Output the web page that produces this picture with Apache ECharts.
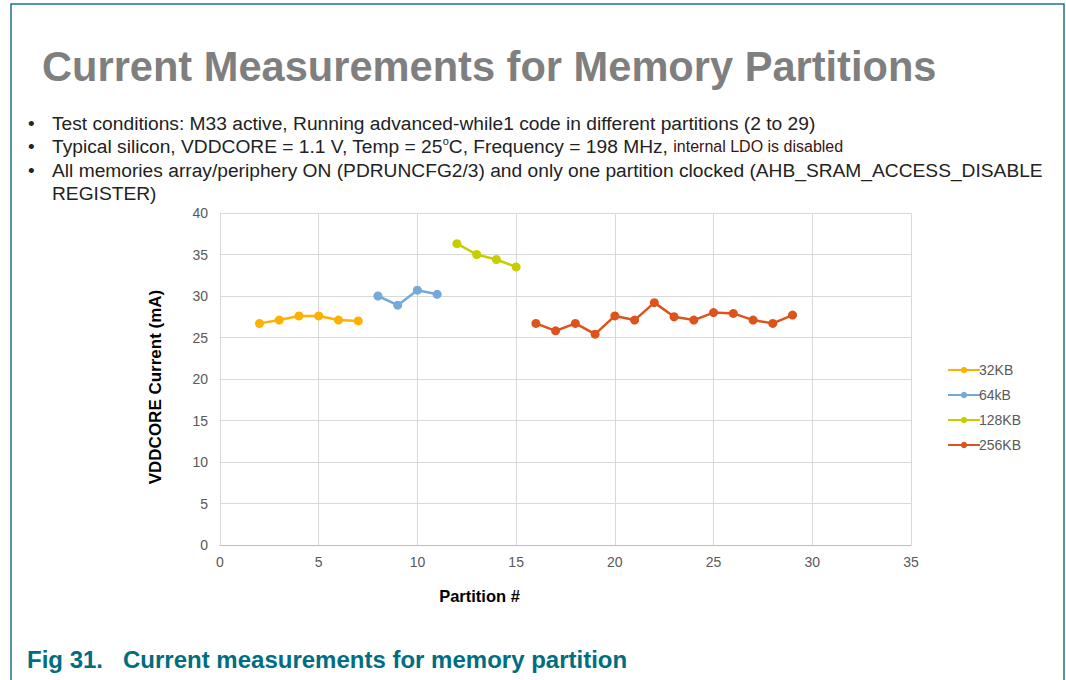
<!DOCTYPE html>
<html lang="en">
  <head>
    <meta charset="UTF-8" />
    <title>Current Measurements for Memory Partitions</title>
    <style>
      html, body {
        margin: 0;
        padding: 0;
        background: #fff;
      }
      #main {
        width: 1066px;
        height: 680px;
      }
    </style>
    <script src="https://cdn.jsdelivr.net/npm/echarts@6/dist/echarts.min.js"></script>
  </head>
  <body>
    <div id="main"></div>
    <script>
      // partition numbers per memory size
      const part32 = [2, 3, 4, 5, 6, 7]
      const val32 = [26.7, 27.1, 27.6, 27.6, 27.1, 27.0]
      const part64 = [8, 9, 10, 11]
      const val64 = [30.0, 28.9, 30.7, 30.2]
      const part128 = [12, 13, 14, 15]
      const val128 = [36.3, 35.0, 34.4, 33.5]
      const part256 = [16, 17, 18, 19, 20, 21, 22, 23, 24, 25, 26, 27, 28, 29]
      const val256 = [26.7, 25.8, 26.7, 25.4, 27.6, 27.1, 29.2, 27.5, 27.1, 28.0, 27.9, 27.1, 26.7, 27.7]
      const seriesNames = ['32KB', '64kB', '128KB', '256KB']
      const colors = ['#ffb000', '#74a9d9', '#c8cd00', '#dc531c']

      const pairs = (xs, ys) => xs.map((x, i) => [x, ys[i]])
      const allData = [
        pairs(part32, val32),
        pairs(part64, val64),
        pairs(part128, val128),
        pairs(part256, val256)
      ]

      const font = 'Liberation Sans, Arial, sans-serif'
      const chart = echarts.init(document.getElementById('main'), null, { renderer: 'svg' })

      const option = {
        animation: false,
        backgroundColor: '#fff',
        textStyle: { fontFamily: font },
        grid: { left: 220, top: 213, right: 155, bottom: 135 },
        legend: {
          orient: 'vertical',
          left: 942,
          top: 358,
          itemWidth: 32,
          itemHeight: 8,
          itemGap: 11,
          textStyle: { fontSize: 14, color: '#595959', padding: [0, 0, 0, -6] },
          data: seriesNames
        },
        xAxis: {
          type: 'value',
          min: 0,
          max: 35,
          interval: 5,
          name: 'Partition #',
          nameLocation: 'middle',
          nameGap: 42,
          nameTextStyle: { fontWeight: 'bold', fontSize: 16.5, color: '#000', padding: [0, 172, 0, 0] },
          axisLine: { lineStyle: { color: '#bfbfbf' } },
          axisTick: { show: false },
          axisLabel: { color: '#595959', fontSize: 14, margin: 10 },
          splitLine: { lineStyle: { color: '#d9d9d9' } }
        },
        yAxis: {
          type: 'value',
          min: 0,
          max: 40,
          interval: 5,
          name: 'VDDCORE Current (mA)',
          nameLocation: 'middle',
          nameRotate: 90,
          nameGap: 56,
          nameTextStyle: { fontWeight: 'bold', fontSize: 17, color: '#000', padding: [0, 16, 0, 0] },
          axisLine: { show: true, lineStyle: { color: '#d9d9d9' } },
          axisTick: { show: false },
          axisLabel: { color: '#595959', fontSize: 14, margin: 12 },
          splitLine: { lineStyle: { color: '#d9d9d9' } }
        },
        series: seriesNames.map((name, i) => ({
          name: name,
          type: 'line',
          data: allData[i],
          symbol: 'circle',
          symbolSize: 9,
          color: colors[i],
          lineStyle: { width: 2.5, color: colors[i] },
          itemStyle: { color: colors[i] }
        })),
        graphic: [
          {
            type: 'rect',
            shape: { x: 11, y: 4, width: 1053, height: 690 },
            style: { fill: 'none', stroke: '#1f7385', lineWidth: 1.5 }
          },
          {
            type: 'text',
            left: 42,
            top: 45,
            style: {
              text: 'Current Measurements for Memory Partitions',
              font: 'bold 41.6px ' + font,
              fill: '#7f7f7f'
            }
          },
          {
            type: 'text',
            left: 28,
            top: 112,
            style: {
              text: '•\n•\n•',
              font: '19px ' + font,
              lineHeight: 23.3,
              fill: '#222'
            }
          },
          {
            type: 'text',
            left: 52,
            top: 112,
            style: {
              text: 'Test conditions: M33 active, Running advanced-while1 code in different partitions (2 to 29)\n' +
                'Typical silicon, VDDCORE = 1.1 V, Temp = 25{s|o}C, Frequency = 198 MHz, {m|internal LDO is disabled}\n' +
                'All memories array/periphery ON (PDRUNCFG2/3) and only one partition clocked (AHB_SRAM_ACCESS_DISABLE\n' +
                'REGISTER)',
              font: '19.2px ' + font,
              lineHeight: 23.3,
              fill: '#222',
              rich: {
                s: { fontSize: 11, verticalAlign: 'top', lineHeight: 14, fill: '#222' },
                m: { fontSize: 16, fill: '#3a1510' }
              }
            }
          },
          {
            type: 'text',
            left: 27,
            top: 647,
            style: {
              text: 'Fig 31.   Current measurements for memory partition',
              font: 'bold 24px ' + font,
              fill: '#006e80'
            }
          }
        ]
      }

      chart.setOption(option)
    </script>
  </body>
</html>
